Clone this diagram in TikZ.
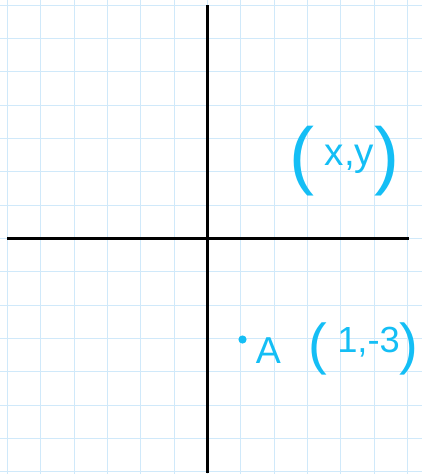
\documentclass[tikz,border=0pt]{standalone}
\usepackage{fontspec}
\setmainfont{Liberation Sans}
\definecolor{inkblue}{RGB}{20,190,245}
\definecolor{gridblue}{RGB}{208,233,250}

\newcommand{\handparen}[2]% size, bracket
    {{\fontsize{#1}{#1}\selectfont\raisebox{-0.2em}{#2}}
}

\begin{document}
\begin{tikzpicture}[
    gridline/.style={gridblue, line width=0.8pt},
    axis/.style={black, line width=2.5pt},
    ink/.style={text=inkblue, inner sep=0pt, anchor=base},
    dot/.style={circle, fill=inkblue, inner sep=0pt, minimum size=7pt}
]
    \useasboundingbox (-6.225,-7.065) rectangle (6.435,7.155);

    % Squared paper
    \draw[gridline] (-6.225,-7.065) grid (6.435,7.155);

    % Axes end points
    \coordinate (xmin) at (-6.0, 0);
    \coordinate (xmax) at (6.05, 0);
    \coordinate (ymin) at (0, -7.03);
    \coordinate (ymax) at (0, 7.0);

    \draw[axis] (xmin) -- (xmax);
    \draw[axis] (ymin) -- (ymax);

    % General point
    \node[ink, font=\fontsize{33}{33}\selectfont] (xy) at (4.1, 2.2)
        {\handparen{64}{(}x,y\handparen{64}{)}};

    % Point A
    \node[dot] (ptA) at (1.05, -3.03) {};
    \node[ink, font=\fontsize{32}{32}\selectfont] (lblA) at (1.83, -3.735) {A};
    \node[ink, font=\fontsize{31}{31}\selectfont] (coordA) at (4.68, -3.42)
        {\handparen{48}{(}1,-3\handparen{48}{)}};

\end{tikzpicture}
\end{document}
